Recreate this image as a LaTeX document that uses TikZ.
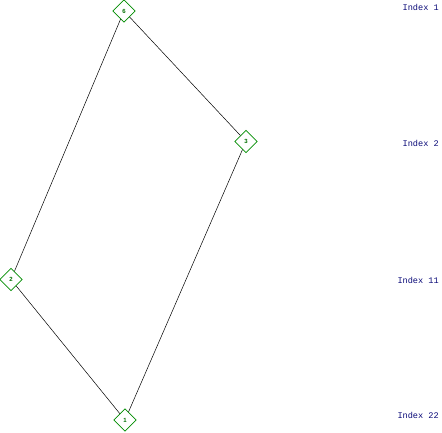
\documentclass[tikz,border=0pt]{standalone}
\usepackage{fontspec}
\setmainfont{Liberation Serif}
\newfontfamily\labfont{Liberation Mono}
\newfontfamily\numfont{Liberation Sans}
\usetikzlibrary{shapes.geometric}
\definecolor{dgreen}{RGB}{0,140,0}
\definecolor{navyblue}{RGB}{10,10,120}
\tikzset{
  vert/.style={diamond, draw=dgreen, line width=0.7pt, fill=white, inner sep=0pt,
    minimum width=22.5pt, minimum height=22.5pt, text=dgreen!80!black,
    font=\numfont\bfseries\fontsize{6}{6}\selectfont},
  idx/.style={anchor=east, text=navyblue, inner sep=0pt, font=\labfont\fontsize{8.6}{8.6}\selectfont},
  edge/.style={draw=black, line width=0.5pt}
}
\begin{document}
\begin{tikzpicture}[x=1pt,y=-1pt]
\useasboundingbox (0,0) rectangle (442,432);
\node[vert] (v6) at (124,11) {6};
\node[vert] (v3) at (246,141.5) {3};
\node[vert] (v2) at (11,279.5) {2};
\node[vert] (v1) at (125,420) {1};
\draw[edge] (v6) -- (v3);
\draw[edge] (v6) -- (v2);
\draw[edge] (v2) -- (v1);
\draw[edge] (v3) -- (v1);
\node[idx] (i1) at (439,7) {Index 1};
\node[idx] (i2) at (439,143) {Index 2};
\node[idx] (i11) at (439,280) {Index 11};
\node[idx] (i22) at (439,415) {Index 22};
\end{tikzpicture}
\end{document}
